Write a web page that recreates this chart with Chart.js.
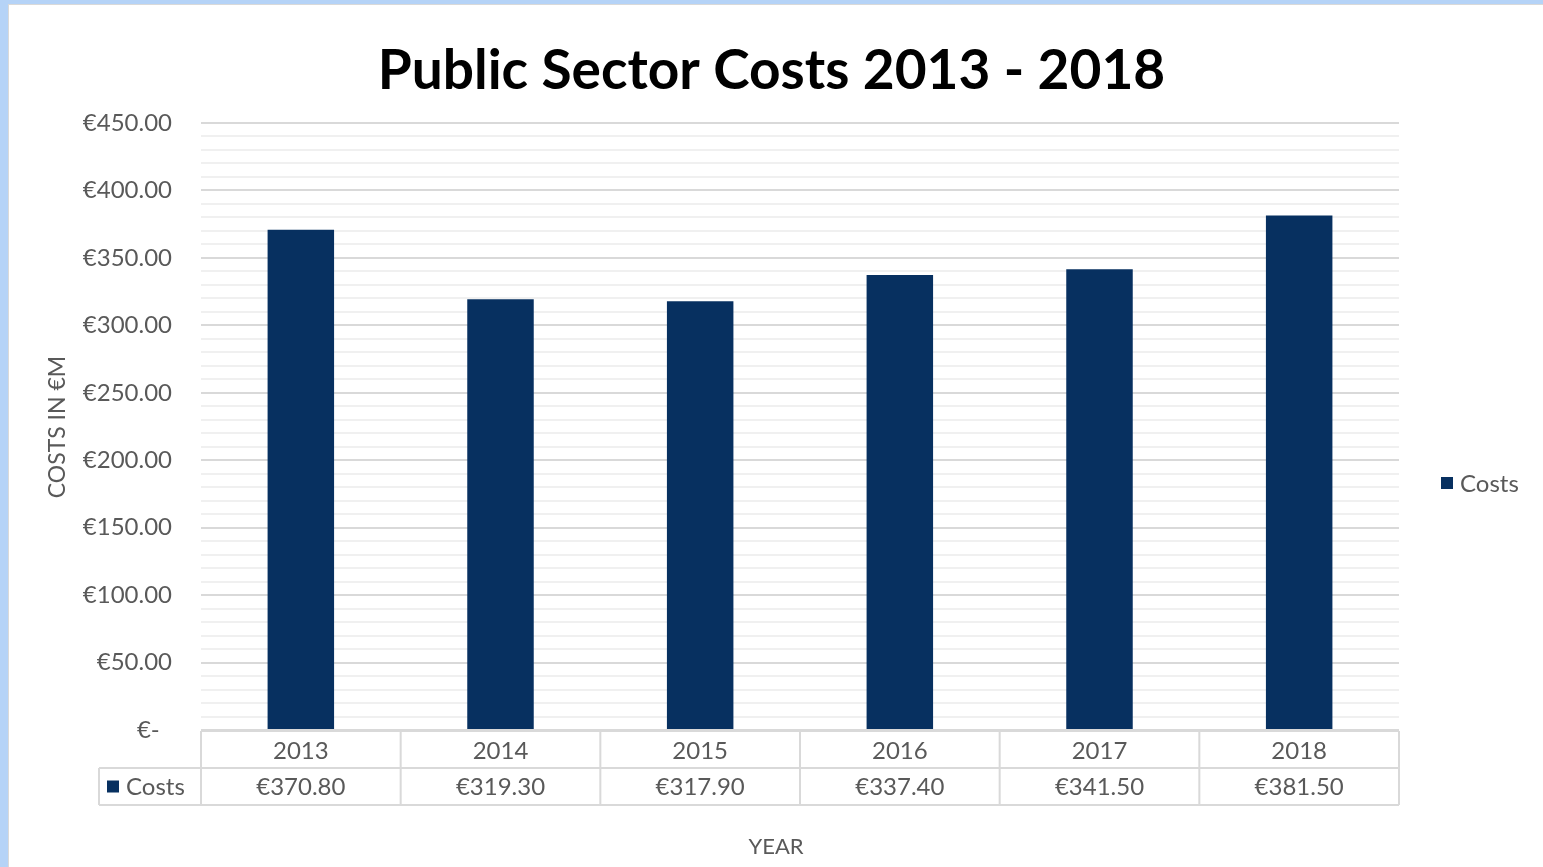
<!DOCTYPE html>
<html>
<head>
<meta charset="utf-8">
<script src="https://cdn.jsdelivr.net/npm/chart.js@4/dist/chart.umd.min.js"></script>
<style>
  html, body { margin: 0; padding: 0; background: #fff; overflow: hidden; }
  #frame { position: absolute; left: 0; top: 0; width: 1543px; height: 867px; background: #b5d3f7; }
  #inner { position: absolute; left: 8px; top: 4px; right: 0; bottom: 0; background: #fff;
           border-left: 1px solid #d9d9d9; border-top: 1px solid #d9d9d9; }
  #chart { position: absolute; left: 0; top: 0; }
</style>
</head>
<body>
<div id="frame"><div id="inner"></div></div>
<canvas id="chart" width="1543" height="867" style="width:1543px;height:867px"></canvas>
<script>
// data
const years = ['2013', '2014', '2015', '2016', '2017', '2018'];
const costs = [370.80, 319.30, 317.90, 337.40, 341.50, 381.50];
const majorTicks = [0, 50, 100, 150, 200, 250, 300, 350, 400, 450];

const textColor = '#595959';
const barColor = '#073060';
const lineColor = '#d9d9d9';
const fontFamily = 'Lato, "Open Sans", sans-serif';

function euro(v) {
    if (v === 0) return '€-  ';
    return '€' + v.toFixed(2);
}

// draws axis titles, right legend and the data table under the bars
const tablePlugin = {
    id: 'dataTable',
    afterDraw(chart) {
        const { ctx, chartArea } = chart;
        const x = chart.scales.x;
        const half = (x.getPixelForValue(1) - x.getPixelForValue(0)) / 2;
        const top = chartArea.bottom + 1;
        const rowH = 37;
        const legendLeft = 99;

        ctx.save();
        ctx.strokeStyle = lineColor;
        ctx.lineWidth = 2;
        ctx.beginPath();
        ctx.moveTo(chartArea.left, top);
        ctx.lineTo(chartArea.right, top);
        ctx.moveTo(legendLeft, top + rowH);
        ctx.lineTo(chartArea.right, top + rowH);
        ctx.moveTo(legendLeft, top + rowH * 2);
        ctx.lineTo(chartArea.right, top + rowH * 2);
        ctx.moveTo(legendLeft, top + rowH);
        ctx.lineTo(legendLeft, top + rowH * 2);
        for (let i = 0; i <= years.length; i++) {
            const px = x.getPixelForValue(i) - half;
            ctx.moveTo(px, top);
            ctx.lineTo(px, top + rowH * 2);
        }
        ctx.stroke();

        ctx.font = '24px ' + fontFamily;
        ctx.fillStyle = textColor;
        ctx.textAlign = 'center';
        ctx.textBaseline = 'middle';
        const ds = chart.data.datasets[0];
        ds.data.forEach((v, i) => {
            ctx.fillText(euro(v), x.getPixelForValue(i), top + rowH * 1.5 + 1);
        });

        // legend key inside the table
        ctx.fillStyle = barColor;
        ctx.fillRect(107, top + rowH * 1.5 - 6, 12, 12);
        ctx.fillStyle = textColor;
        ctx.textAlign = 'left';
        ctx.fillText(ds.label, 126, top + rowH * 1.5 + 1);

        // legend on the right
        ctx.fillStyle = barColor;
        ctx.fillRect(1441, 477, 12, 12);
        ctx.fillStyle = textColor;
        ctx.fillText(ds.label, 1460, 484);

        // axis titles
        ctx.font = '22px ' + fontFamily;
        ctx.textAlign = 'center';
        ctx.fillText('YEAR', 776, 847);
        ctx.font = '23px ' + fontFamily;
        ctx.translate(58, 427);
        ctx.rotate(-Math.PI / 2);
        ctx.fillText('COSTS IN €M', 0, 0);
        ctx.restore();
    }
};

const ctx = document.getElementById('chart').getContext('2d');
const costChart = new Chart(ctx, {
    type: 'bar',
    data: {
        labels: years,
        datasets: [{
            label: 'Costs',
            data: costs,
            backgroundColor: barColor,
            borderWidth: 0,
            barPercentage: 0.333,
            categoryPercentage: 1,
        }],
    },
    options: {
        responsive: false,
        animation: false,
        devicePixelRatio: 1,
        layout: { padding: 0 },
        plugins: {
            legend: { display: false },
            tooltip: { enabled: false },
            title: {
                display: true,
                text: 'Public Sector Costs 2013 - 2018',
                color: '#000',
                font: { family: fontFamily, size: 55, weight: 'bold' },
                padding: { top: 38, bottom: 19 },
            },
        },
        scales: {
            x: {
                grid: { display: false, drawTicks: false },
                border: { display: false },
                ticks: {
                    color: textColor,
                    font: { family: fontFamily, size: 24 },
                    padding: 7,
                },
                afterFit(scale) { scale.height = 137; },
            },
            y: {
                min: 0,
                max: 450,
                border: { display: false },
                grid: {
                    drawTicks: false,
                    color: (c) => majorTicks.includes(c.tick.value) ? lineColor : '#f0f0f0',
                    lineWidth: 2,
                },
                ticks: {
                    stepSize: 10,
                    autoSkip: false,
                    color: textColor,
                    padding: 29,
                    font: { family: fontFamily, size: 24 },
                    callback: (v) => majorTicks.includes(v) ? euro(v) : '',
                },
                afterFit(scale) { scale.width = 201; },
            },
            // empty right-hand space that holds the legend
            yRight: {
                position: 'right',
                min: 0,
                max: 450,
                grid: { display: false, drawTicks: false },
                border: { display: false },
                ticks: { display: false },
                afterFit(scale) { scale.width = 144; },
            },
        },
    },
    plugins: [tablePlugin],
});
</script>
</body>
</html>
